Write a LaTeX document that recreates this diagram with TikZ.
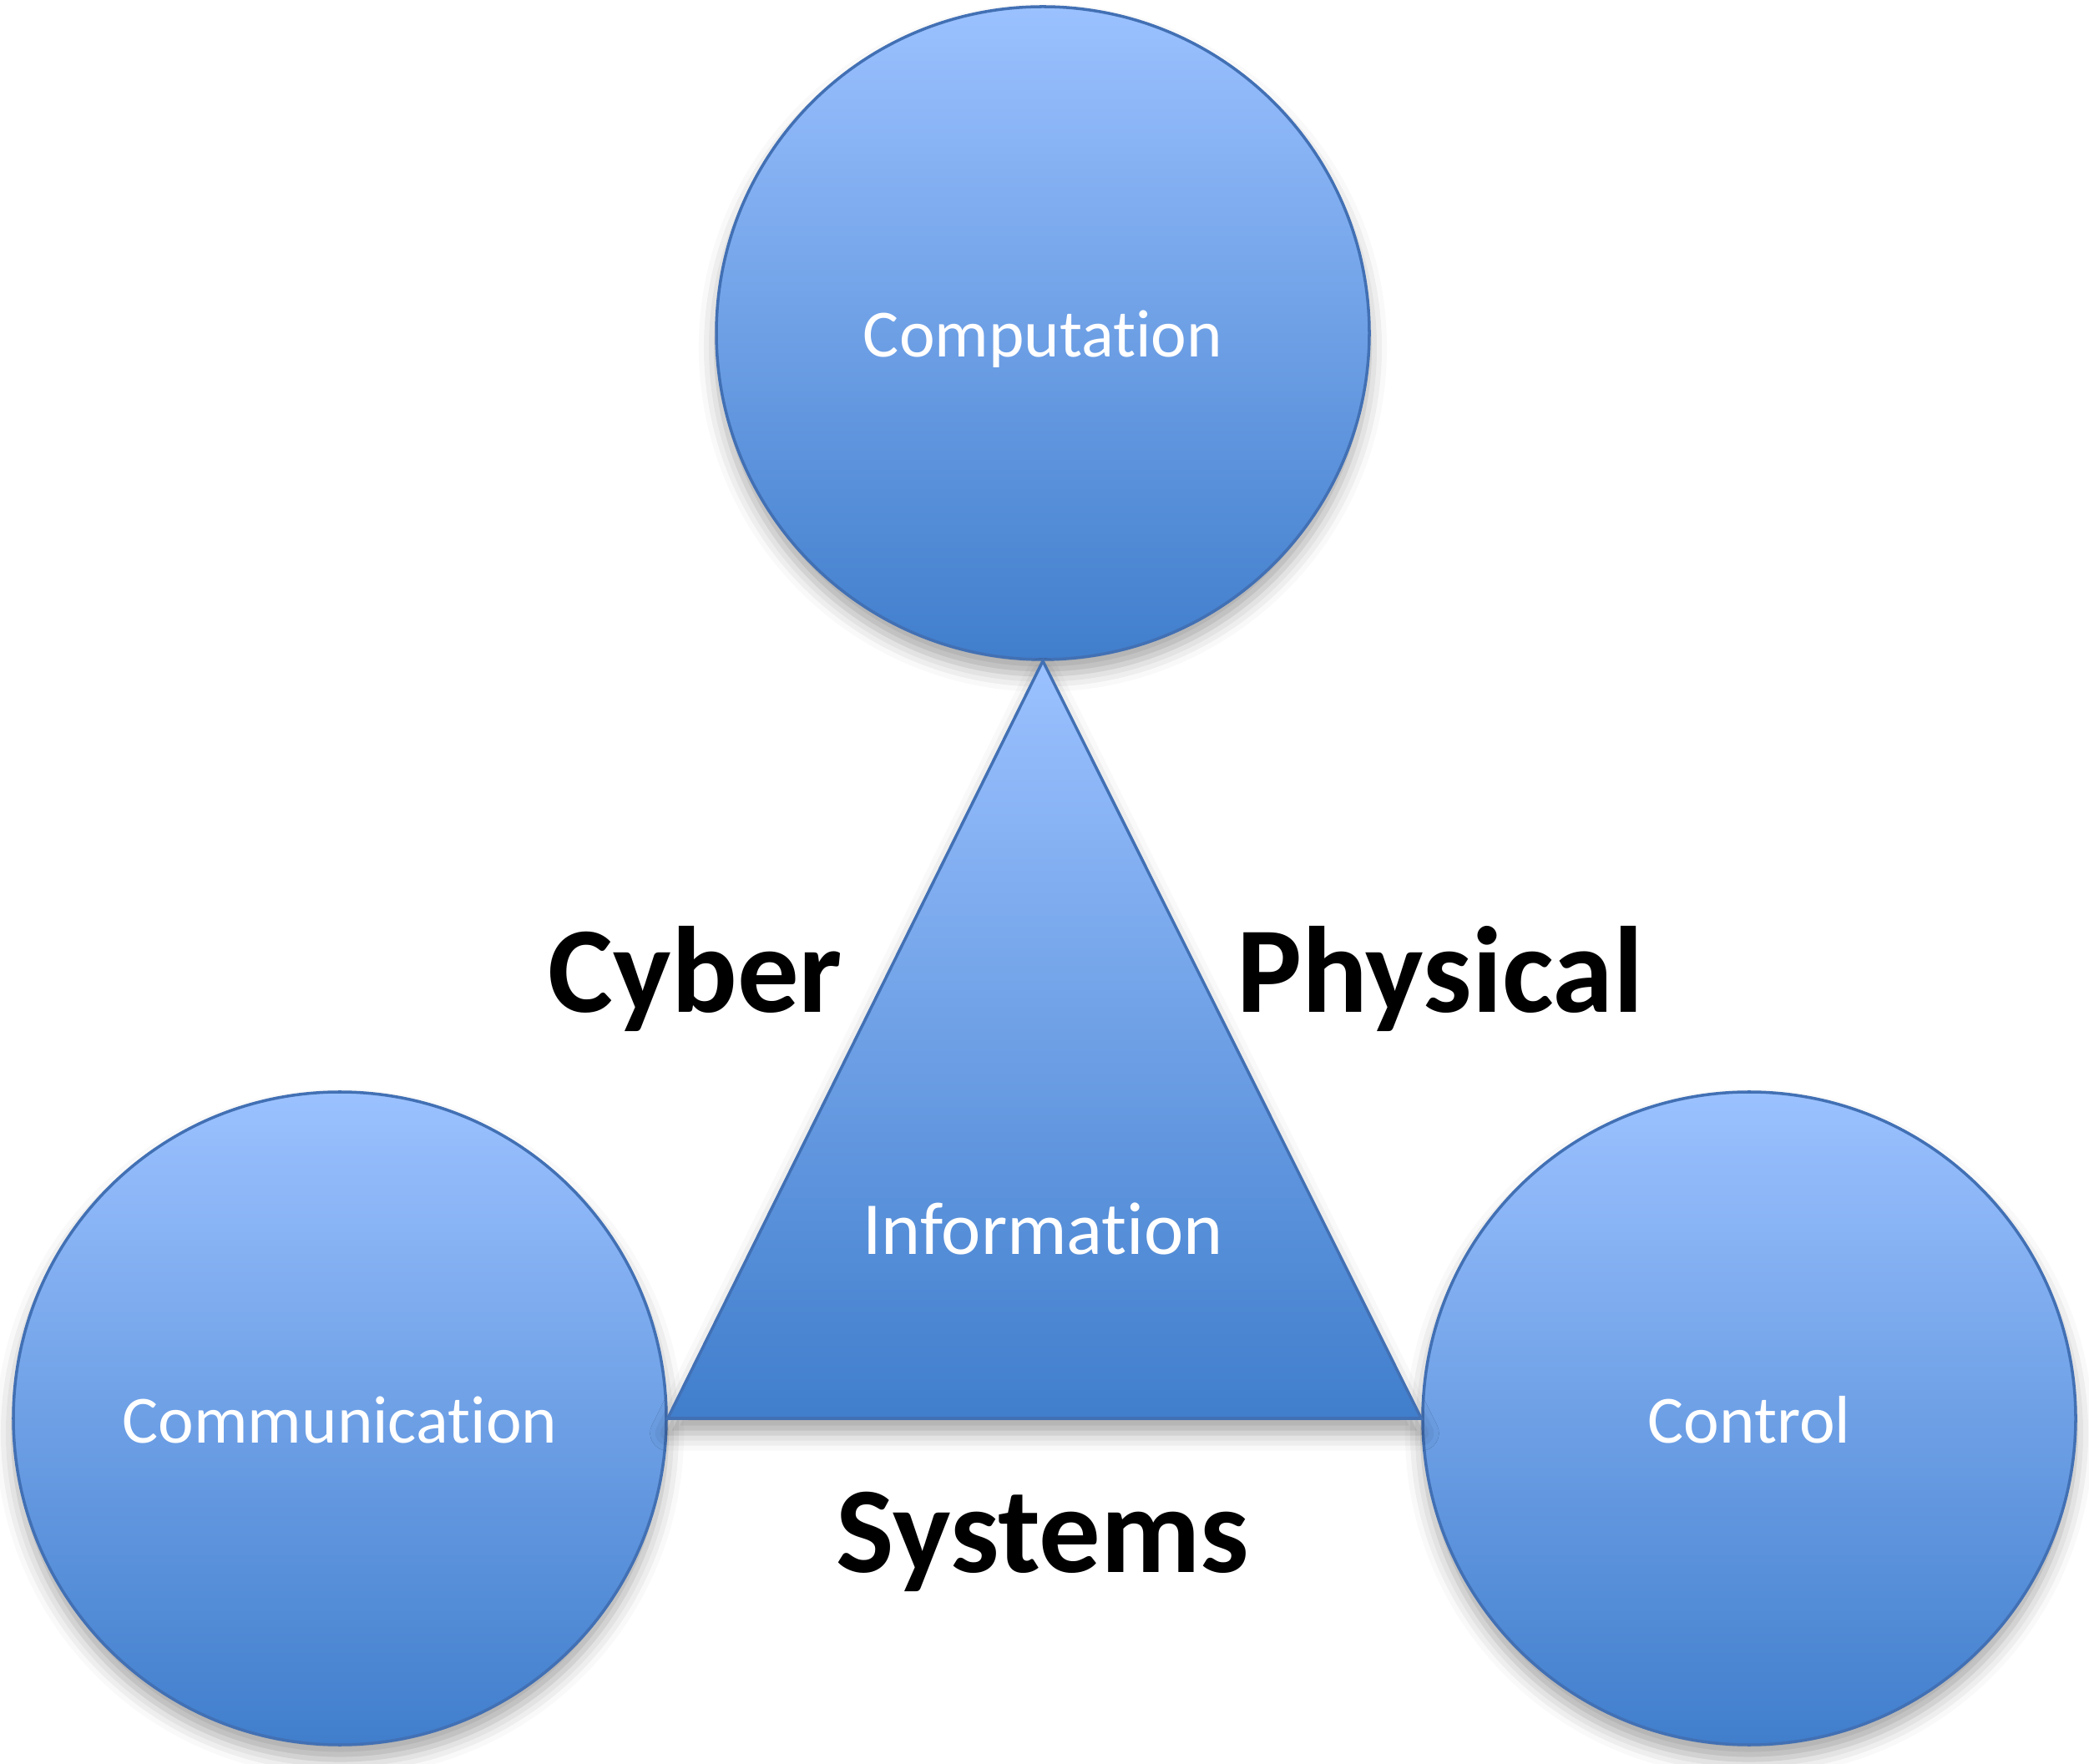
\documentclass[tikz,border=0pt]{standalone}
\usepackage{fontspec}
\setmainfont{Carlito}[Ligatures=NoCommon]
\usetikzlibrary{shadows.blur}
\definecolor{topblue}{RGB}{155,193,255}
\definecolor{botblue}{RGB}{64,126,204}
\definecolor{edgeblue}{RGB}{66,112,180}
\begin{document}
\begin{tikzpicture}[
  blob/.style={circle, minimum size=7.82cm, inner sep=0pt, draw=edgeblue, line width=1pt,
    top color=topblue, bottom color=botblue,
    blur shadow={shadow xshift=0pt, shadow yshift=-5pt, shadow blur radius=6pt, shadow opacity=35}},
  lbl/.style={text=white, font=\fontsize{23}{27}\selectfont, anchor=base},
  big/.style={font=\bfseries\fontsize{41.8}{50}\selectfont, anchor=base}
]
\useasboundingbox (0,0) rectangle (25.02,21.12);
\node[blob] (comp) at (12.49,17.13){};
\node[blob] (comm) at (4.07,4.13){};
\node[blob] (ctrl) at (20.95,4.13){};
\shade[top color=topblue, bottom color=botblue, draw=edgeblue, line width=1pt,
  blur shadow={shadow xshift=0pt, shadow yshift=-5pt, shadow blur radius=6pt, shadow opacity=35}]
  (comp.south) -- (comm.east) -- (ctrl.west) -- cycle;
\node[lbl] (tcomp) at (12.49,16.84){Computation};
\node[lbl] (tcomm) at (4.07,3.84){Communication};
\node[lbl] (tctrl) at (20.95,3.84){Control};
\node[lbl, font=\fontsize{25.5}{30}\selectfont] (tinfo) at (12.49,6.09){Information};
\node[big] (cyber) at (8.33,8.99){Cyber};
\node[big] (phys) at (17.25,8.99){Physical};
\node[big] (sys) at (12.49,2.29){Systems};
\end{tikzpicture}
\end{document}
